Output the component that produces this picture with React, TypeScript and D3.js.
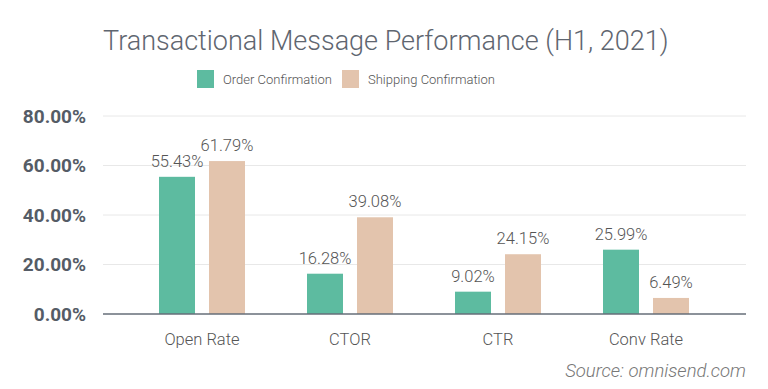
import React from 'react';
import * as d3 from 'd3';

const categories = ['Open Rate', 'CTOR', 'CTR', 'Conv Rate'];
const seriesNames = ['Order Confirmation', 'Shipping Confirmation'];
const orderValues = [55.43, 16.28, 9.02, 25.99];
const shippingValues = [61.79, 39.08, 24.15, 6.49];
const yTicks = [0, 20, 40, 60, 80];
const colors = ['#5dbba0', '#e3c4ad'];

const App = () => {
  const width = 768;
  const height = 389;
  const plotLeft = 103;
  const plotRight = 746;
  const top = 116;
  const bottom = 314;

  const x0 = d3.scaleBand<string>().domain(categories).range([128, 720]).padding(0);
  const x1 = d3.scaleBand<number>().domain([0, 1]).range([0, 86]).paddingInner(0.28);
  const y = d3.scaleLinear().domain([0, 80]).range([bottom, top]);
  const series = [orderValues, shippingValues];

  return (
    <svg width={width} height={height} style={{ position: 'absolute', left: 0, top: 0, fontFamily: 'Roboto, sans-serif' }}>
      <rect width={width} height={height} fill="#fff" />
      <text x={103} y={50} fontSize={27} fontWeight={300} fill="#5f6670">
        Transactional Message Performance (H1, 2021)
      </text>
      {/* legend */}
      {seriesNames.map((name, i) => {
        const lx = i === 0 ? 197 : 342;
        return (
          <g key={name}>
            <rect x={lx} y={70} width={17} height={18} fill={colors[i]} />
            <text x={lx + 26} y={84} fontSize={13} fontWeight={300} fill="#555">{name}</text>
          </g>
        );
      })}
      {/* grid */}
      {yTicks.map(t => (
        <g key={t}>
          {t > 0 && <line x1={plotLeft} x2={plotRight} y1={y(t)} y2={y(t)} stroke="#e8e8e8" />}
          <text x={86} y={y(t) + 6.5} textAnchor="end" fontSize={19} fontWeight={700} fill="#555c66">
            {t.toFixed(2)}%
          </text>
        </g>
      ))}
      {/* bars */}
      {categories.map((c, ci) => {
        const cx = (x0(c) as number) + x0.bandwidth() / 2 - 43;
        return (
          <g key={c} transform={`translate(${cx},0)`}>
            {series.map((vals, si) => (
              <g key={si}>
                <rect
                  x={x1(si)}
                  y={y(vals[ci])}
                  width={x1.bandwidth()}
                  height={bottom - y(vals[ci])}
                  fill={colors[si]}
                />
                <text
                  x={(x1(si) as number) + x1.bandwidth() / 2}
                  y={y(vals[ci]) - 10}
                  textAnchor="middle"
                  fontSize={16.5}
                  fontWeight={300}
                  fill="#555"
                >
                  {vals[ci].toFixed(2)}%
                </text>
              </g>
            ))}
          </g>
        );
      })}
      <line x1={plotLeft} x2={plotRight} y1={bottom} y2={bottom} stroke="#666e78" strokeWidth={1.5} />
      {categories.map(c => (
        <text key={c} x={(x0(c) as number) + x0.bandwidth() / 2} y={345} textAnchor="middle" fontSize={16.5} fontWeight={300} fill="#555">
          {c}
        </text>
      ))}
      <text x={746} y={377} textAnchor="end" fontSize={18.5} fontWeight={300} fontStyle="italic" fill="#777">
        Source: omnisend.com
      </text>
    </svg>
  );
};

export default App;
